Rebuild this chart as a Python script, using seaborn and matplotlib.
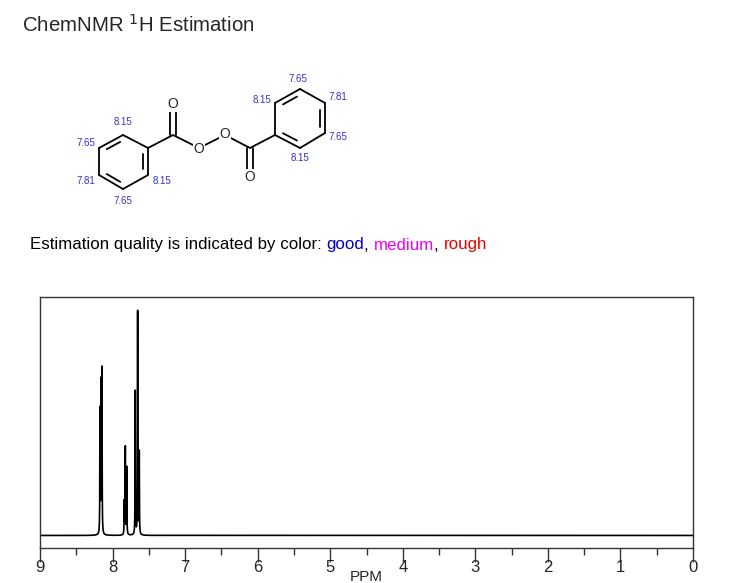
import matplotlib
matplotlib.use('Agg')
from matplotlib import pyplot as plt
import seaborn as sns
import pandas as pd
import numpy as np

sns.set_style('white')
plt.rcParams['font.family'] = ['Liberation Sans', 'DejaVu Sans']

# predicted multiplet lines: ppm and relative height (fraction of plot height above baseline)
peak_ppm = [8.173, 8.159, 8.146, 7.838, 7.824, 7.805, 7.687, 7.654, 7.632]
peak_h = [0.50, 0.63, 0.66, 0.14, 0.35, 0.29, 0.58, 0.90, 0.33]
shift_labels = ['8.15', '7.65', '7.81', '7.65', '8.15',
                '7.65', '8.15', '7.81', '7.65', '8.15']
quality_words = ['Estimation quality is indicated by color: ', 'good', ', ', 'medium', ', ', 'rough']
quality_colors = ['black', '#0000cc', 'black', '#ee00ee', 'black', '#ee0000']

ppm = np.linspace(9, 0, 6000)
gam = 0.0025
inten = np.zeros_like(ppm)
for p, h in zip(peak_ppm, peak_h):
    inten += h * gam**2 / ((ppm - p)**2 + gam**2)
spec = pd.DataFrame({'ppm': ppm, 'intensity': inten})

W, H = 730, 583
fig = plt.figure(figsize=(W / 100, H / 100), dpi=100)

# drawing layer in pixel coordinates
bg = fig.add_axes([0, 0, 1, 1])
bg.set_xlim(0, W)
bg.set_ylim(H, 0)
bg.axis('off')

bg.text(22, 25, 'ChemNMR $^1$H Estimation', fontsize=14.7, va='center', ha='left')

# colour legend sentence, pieces chained one after another
fig.canvas.draw()
rend = fig.canvas.get_renderer()
x = 30
for word, col in zip(quality_words, quality_colors):
    t = bg.text(x, 245, word, fontsize=12.2, va='center', color=col)
    x += t.get_window_extent(rend).width

# molecule skeleton (pixel coords)
left_ring = [(123, 135), (148, 148), (148, 175), (123, 189), (99, 175), (99, 148)]
right_ring = [(275, 103), (300, 89), (325, 103), (325, 133), (300, 148), (275, 135)]
chain = [(148, 148), (173, 135), (199, 148), (225, 135), (250, 148), (275, 135)]
kw = dict(color='black', lw=1.3, solid_capstyle='round')


def ring(pts, doubles):
    c = np.mean(pts, axis=0)
    for i in range(6):
        a, b = np.array(pts[i]), np.array(pts[(i + 1) % 6])
        bg.plot([a[0], b[0]], [a[1], b[1]], **kw)
        if i in doubles:
            a2 = a + (c - a) * 0.2 + (b - a) * 0.12
            b2 = b + (c - b) * 0.2 - (b - a) * 0.12
            bg.plot([a2[0], b2[0]], [a2[1], b2[1]], **kw)


ring(left_ring, [1, 3, 5])
ring(right_ring, [0, 2, 4])
xs, ys = zip(*chain)
bg.plot(xs, ys, **kw)
bg.plot([170, 170], [109, 135], **kw)
bg.plot([176, 176], [109, 135], **kw)
bg.plot([247, 247], [148, 173], **kw)
bg.plot([253, 253], [148, 173], **kw)
for x, y in [(173, 104), (199, 149), (225, 134), (250, 177)]:
    bg.text(x, y, 'O', fontsize=10, ha='center', va='center',
            bbox=dict(facecolor='white', edgecolor='none', pad=0.5))

label_pos = [(123, 122), (86, 143), (86, 181), (123, 201), (162, 181),
             (298, 79), (262, 100), (338, 97), (338, 137), (300, 158)]
for (x, y), s in zip(label_pos, shift_labels):
    bg.text(x, y, s, fontsize=7, color='#3333cc', ha='center', va='center')

# spectrum panel
ax = fig.add_axes([40 / W, (H - 548) / H, 653 / W, 251 / H])
sns.lineplot(data=spec, x='ppm', y='intensity', color='black', lw=1.2, ax=ax)
ax.set_xlim(9, 0)
ax.set_ylim(-0.05, 0.95)
ax.set_yticks([])
ax.set_ylabel('')
ax.set_xticks(np.arange(0, 10, 1))
ax.set_xticks(np.arange(0.5, 9, 1), minor=True)
ax.tick_params(axis='x', which='both', bottom=True, direction='out', color='#333333')
ax.tick_params(axis='x', which='major', length=10, width=1, labelsize=12, pad=-1)
ax.tick_params(axis='x', which='minor', length=5, width=1)
ax.set_xlabel('PPM', fontsize=11, labelpad=-4)
for s in ax.spines.values():
    s.set_linewidth(1)
    s.set_color('#333333')

fig.savefig('out.png', dpi=100)
